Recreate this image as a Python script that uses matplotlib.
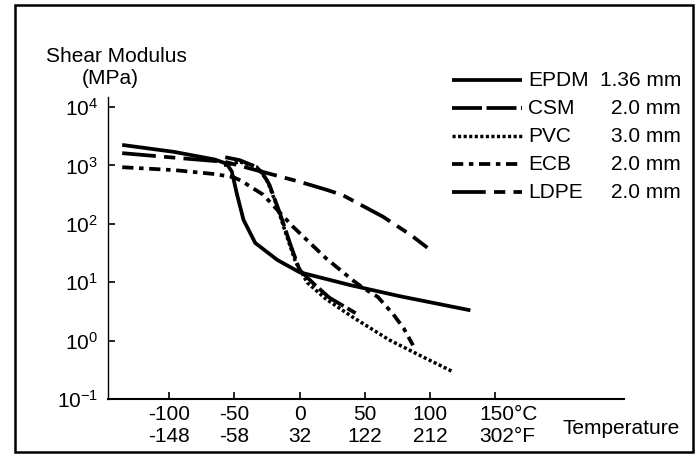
import matplotlib
matplotlib.use("Agg")
import matplotlib.pyplot as plt
from matplotlib.lines import Line2D
from matplotlib.patches import Rectangle

plt.rcParams['font.family'] = ['Liberation Sans', 'DejaVu Sans']
plt.rcParams['mathtext.fontset'] = 'custom'
plt.rcParams['mathtext.rm'] = 'Liberation Sans'

FS = 15

# --- data (temperature in C, shear modulus in MPa) ---
epdm_t = [-136, -96, -65, -56, -52, -48, -43, -34, -17, 0, 39, 77, 131]
epdm_g = [2240, 1700, 1260, 1070, 790, 320, 117, 47, 24, 14.8, 8.9, 5.75, 3.3]

csm_t = [-57, -46, -36, -29, -23, -15, -7, 0, 12, 23, 43]
csm_g = [1380, 1230, 1000, 780, 460, 150, 44, 16.2, 8.9, 5.4, 2.95]

pvc_t = [-58, -46, -33, -25, -18, -10, -3, 6, 20, 41, 69, 95, 118]
pvc_g = [1000, 1150, 950, 560, 220, 63, 22, 9.8, 5.2, 2.5, 1.02, 0.52, 0.29]

ecb_t = [-136, -96, -65, -51, -45, -28, -5, 20, 41, 49, 60, 72, 80, 87]
ecb_g = [930, 830, 710, 630, 550, 316, 89, 26, 10.7, 7.9, 5.6, 2.8, 1.6, 0.83]

ldpe_t = [-136, -95, -57, -25, 0, 21, 33, 64, 85, 98]
ldpe_g = [1620, 1350, 1150, 740, 525, 380, 310, 132, 65, 39]

series = [
    ("EPDM", "1.36 mm", epdm_t, epdm_g, dict(ls='-', lw=2.7)),
    ("CSM", "2.0 mm", csm_t, csm_g, dict(ls=(0, (8, 1.2)), lw=2.7)),
    ("PVC", "3.0 mm", pvc_t, pvc_g, dict(ls=(0, (0.9, 0.7)), lw=2.5)),
    ("ECB", "2.0 mm", ecb_t, ecb_g, dict(ls=(0, (3, 1.5, 1.2, 1.5)), lw=2.7)),
    ("LDPE", "2.0 mm", ldpe_t, ldpe_g, dict(ls=(0, (9, 2.2, 3, 2.2)), lw=2.7)),
]

c_ticks = [-100, -50, 0, 50, 100, 150]
f_ticks = ["-148", "-58", "32", "122", "212", "302°F"]
c_labels = ["-100", "-50", "0", "50", "100", "150°C"]

W, H = 700, 457
fig = plt.figure(figsize=(7, 4.57), dpi=100)
ax = fig.add_axes([108 / W, 1 - 399 / H, (624 - 108) / W, (399 - 97) / H])

for name, thick, t, g, style in series:
    ax.plot(t, g, color='black', solid_capstyle='butt', dash_capstyle='butt', **style)

ax.set_yscale('log')
ax.set_xlim(-146.9, 248.8)
ax.set_ylim(0.1, 10 ** 4.171)
ax.set_yticks([1e-1, 1, 1e1, 1e2, 1e3, 1e4])
ax.set_yticklabels([r'$\mathregular{10^{-1}}$', r'$\mathregular{10^{0}}$', r'$\mathregular{10^{1}}$',
                    r'$\mathregular{10^{2}}$', r'$\mathregular{10^{3}}$', r'$\mathregular{10^{4}}$'])
ax.minorticks_off()
ax.set_xticks(c_ticks)
ax.set_xticklabels([])
ax.tick_params(axis='both', direction='in', length=5, width=1.2, labelsize=FS, pad=7)

for s in ['top', 'right']:
    ax.spines[s].set_visible(False)
ax.spines['left'].set_linewidth(1.0)
ax.spines['bottom'].set_linewidth(1.5)

# two-row temperature tick labels
for c, cl, fl in zip(c_ticks, c_labels, f_ticks):
    if c == 150:
        x = c - 12
        ha = 'left'
    else:
        x = c
        ha = 'center'
    ax.text(x, -0.052, cl, transform=ax.get_xaxis_transform(), ha=ha, va='center', fontsize=FS)
    ax.text(x, -0.124, fl, transform=ax.get_xaxis_transform(), ha=ha, va='center', fontsize=FS)

fig.text(621 / W, 1 - 429 / H, "Temperature", ha='center', va='center', fontsize=FS)
fig.text(116 / W, 1 - 57 / H, "Shear Modulus", ha='center', va='center', fontsize=FS)
fig.text(110 / W, 1 - 79 / H, "(MPa)", ha='center', va='center', fontsize=FS)

# legend
rows = [80, 108, 136, 164, 192]
for (name, thick, t, g, style), y in zip(series, rows):
    yf = 1 - y / H
    fig.add_artist(Line2D([452 / W, 522 / W], [yf, yf], color='black',
                          solid_capstyle='butt', dash_capstyle='butt', **style))
    fig.text(528 / W, yf, name, ha='left', va='center', fontsize=FS)
    fig.text(681 / W, yf, thick, ha='right', va='center', fontsize=FS)

# outer frame
fig.add_artist(Rectangle((15 / W, 1 - 452 / H), (693 - 15) / W, (452 - 5) / H,
                         transform=fig.transFigure, fill=False, lw=1.8, ec='black'))

fig.savefig("out.png", dpi=100)
